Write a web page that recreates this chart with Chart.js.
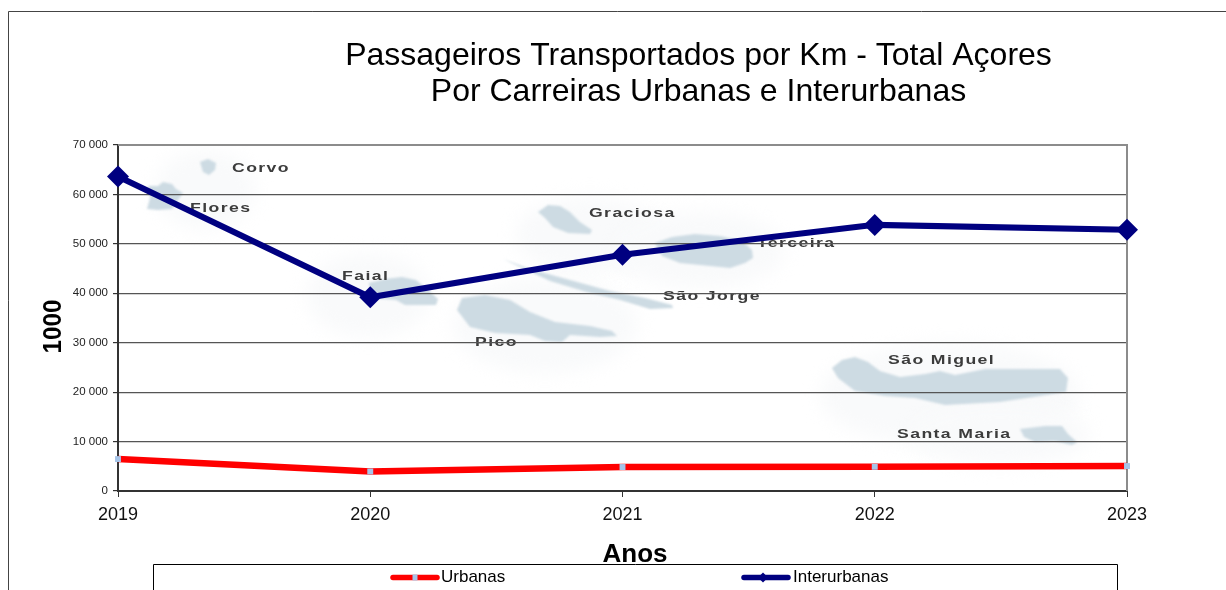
<!DOCTYPE html>
<html lang="pt">
<head>
<meta charset="utf-8">
<title>Passageiros Transportados por Km</title>
<script src="https://cdn.jsdelivr.net/npm/chart.js@4"></script>
<style>html,body{margin:0;padding:0;background:#fff;overflow:hidden}canvas{display:block}</style>
</head>
<body>
<canvas id="c" width="1226" height="590"></canvas>
<script>
const years = ['2019', '2020', '2021', '2022', '2023'];
const urbanas = [6460, 3940, 4850, 4900, 5050];
const interurbanas = [63640, 39190, 47780, 53840, 52830];
const yTicksStep = 10000;
const yMax = 70000;
const titleLines = ['Passageiros Transportados por Km - Total Açores', 'Por Carreiras Urbanas e Interurbanas'];
const xAxisTitle = 'Anos';
const yAxisTitle = '1000';

/* Decorative map behind the plot (not data) */
const islands = [
  [[200,162],[208,159],[216,163],[215,170],[209,175],[203,172]],
  [[148,186],[158,186],[163,182],[172,184],[176,189],[183,193],[178,200],[172,209],[158,210],[147,209],[150,198]],
  [[369,283],[385,279],[402,277],[416,280],[428,290],[438,299],[436,305],[405,305],[396,300],[372,298]],
  [[538,212],[548,205],[560,206],[570,212],[580,222],[592,230],[590,234],[568,233],[553,227],[545,218]],
  [[655,243],[672,237],[695,234],[720,236],[742,241],[752,250],[753,258],[745,263],[730,268],[710,266],[680,263],[662,256]],
  [[503,259],[530,269],[570,280],[610,291],[645,298],[672,305],[673,308],[650,309],[620,300],[590,293],[550,281]],
  [[457,310],[462,298],[485,295],[510,300],[530,312],[555,322],[590,326],[612,331],[617,336],[600,337],[570,335],[562,342],[545,341],[530,335],[495,333],[470,327]],
  [[832,368],[842,360],[855,357],[868,362],[880,371],[900,377],[925,374],[940,371],[955,375],[985,369],[1010,369],[1060,369],[1068,378],[1066,392],[1040,396],[1000,402],[945,405],[915,398],[885,396],[855,391],[838,378]],
  [[1020,429],[1045,426],[1062,426],[1068,434],[1077,442],[1072,445],[1055,441],[1035,442],[1024,437]]
];
const halos = [[205,190,50,40],[368,295,62,42],[590,235,75,38],[700,250,85,38],[545,325,92,48],[950,395,130,52],[1000,435,90,30]];
const placeNames = [
  ['Corvo',232,169],['Flores',190,209],['Faial',342,277],['Graciosa',589,214],['Terceira',757,244],
  ['São Jorge',663,297],['Pico',475,343],['São Miguel',888,361],['Santa Maria',897,435]
];

const pagePlugin = {
  id: 'page',
  afterLayout(chart) {
    chart.titleBlock.left += 270; /* the title sits to the right of the page centre */
  },
  beforeDraw(chart) {
    const ctx = chart.ctx;
    ctx.save();
    ctx.fillStyle = '#fff';
    ctx.fillRect(0, 0, chart.width, chart.height);
    ctx.strokeStyle = '#444';
    ctx.lineWidth = 1;
    ctx.beginPath();
    ctx.moveTo(8.5, 590); ctx.lineTo(8.5, 11.5); ctx.lineTo(1226, 11.5);
    ctx.stroke();
    const a = chart.chartArea;
    ctx.beginPath(); ctx.rect(a.left, a.top, a.right - a.left, a.bottom - a.top); ctx.clip();
    ctx.filter = 'blur(9px)';
    ctx.fillStyle = '#f9fafb';
    halos.forEach(h => { ctx.beginPath(); ctx.ellipse(h[0], h[1], h[2], h[3], 0, 0, Math.PI * 2); ctx.fill(); });
    ctx.filter = 'blur(0.8px)';
    ctx.fillStyle = '#cddbe3';
    islands.forEach(p => {
      ctx.beginPath();
      p.forEach((q, i) => i ? ctx.lineTo(q[0], q[1]) : ctx.moveTo(q[0], q[1]));
      ctx.closePath(); ctx.fill();
    });
    ctx.filter = 'blur(0.4px)';
    ctx.fillStyle = '#3c3c3c';
    ctx.font = 'bold 12.5px "Liberation Sans"';
    ctx.letterSpacing = '1px';
    ctx.textBaseline = 'middle';
    placeNames.forEach(n => {
      ctx.save();
      ctx.translate(n[1], n[2]);
      ctx.scale(1.41, 1);
      ctx.fillText(n[0], 0, 0);
      ctx.restore();
    });
    ctx.restore();
  },
  beforeDatasetsDraw(chart) {
    const ctx = chart.ctx, a = chart.chartArea;
    ctx.save();
    ctx.strokeStyle = '#8c8c8c';
    ctx.lineWidth = 2;
    ctx.beginPath();
    ctx.moveTo(a.left, a.top); ctx.lineTo(a.right, a.top); ctx.lineTo(a.right, a.bottom);
    ctx.stroke();
    ctx.restore();
  },
  afterDraw(chart) {
    const ctx = chart.ctx;
    ctx.save();
    ctx.fillStyle = '#000';
    ctx.font = 'bold 26px "Liberation Sans"';
    ctx.textAlign = 'center';
    ctx.textBaseline = 'alphabetic';
    ctx.fillText(xAxisTitle, 635, 562);

    ctx.save();
    ctx.translate(61, 326.5);
    ctx.rotate(-Math.PI / 2);
    ctx.scale(0.93, 1);
    ctx.fillText(yAxisTitle, 0, 0);
    ctx.restore();

    /* legend box, cut by the bottom of the page */
    ctx.strokeStyle = '#000';
    ctx.lineWidth = 1;
    ctx.beginPath();
    ctx.moveTo(153.5, 590); ctx.lineTo(153.5, 564.5); ctx.lineTo(1117.5, 564.5); ctx.lineTo(1117.5, 590);
    ctx.stroke();
    const starts = [390, 741];
    ctx.font = '17px "Liberation Sans"';
    ctx.textAlign = 'left';
    ctx.textBaseline = 'middle';
    chart.data.datasets.forEach((d, i) => {
      const x = starts[i], y = 577.5;
      ctx.strokeStyle = d.borderColor;
      ctx.lineWidth = 5.5;
      ctx.lineCap = 'round';
      ctx.beginPath(); ctx.moveTo(x + 3, y); ctx.lineTo(x + 47, y); ctx.stroke();
      ctx.fillStyle = d.pointBackgroundColor;
      ctx.beginPath();
      if (d.pointStyle === 'rect') { ctx.rect(x + 22.5, y - 3, 5, 6); }
      else { ctx.moveTo(x + 22, y - 5); ctx.lineTo(x + 27, y); ctx.lineTo(x + 22, y + 5); ctx.lineTo(x + 17, y); ctx.closePath(); }
      ctx.fill();
      ctx.fillStyle = '#000';
      ctx.fillText(d.label, x + (i ? 52 : 51), y);
    });
    ctx.restore();
  }
};

new Chart(document.getElementById('c'), {
  type: 'line',
  data: {
    labels: years,
    datasets: [
      { label: 'Urbanas', data: urbanas, borderColor: '#ff0000', borderWidth: 6.5, pointStyle: 'rect',
        pointRadius: 4.2, pointBackgroundColor: '#a6c4e8', pointBorderWidth: 0, tension: 0, clip: false },
      { label: 'Interurbanas', data: interurbanas, borderColor: '#000080', borderWidth: 6, pointStyle: 'rectRot',
        pointRadius: 11, pointBackgroundColor: '#000080', pointBorderWidth: 0, tension: 0, clip: false }
    ]
  },
  options: {
    responsive: false,
    animation: false,
    layout: { padding: { left: 0, right: 99, top: 38, bottom: 0 } },
    plugins: {
      legend: { display: false },
      tooltip: { enabled: false },
      title: {
        display: true, text: titleLines, color: '#000',
        font: { family: '"Liberation Sans"', size: 32, weight: 'normal', lineHeight: 1.125 },
        padding: { top: 0, bottom: 35 }
      }
    },
    scales: {
      x: {
        type: 'category',
        offset: false,
        afterFit(s) { s.height = 99; },
        border: { color: '#333', width: 2 },
        grid: {
          color: 'rgba(0,0,0,0)',
          lineWidth: 1,
          tickColor: '#333', tickLength: 6
        },
        ticks: { color: '#111', font: { family: '"Liberation Sans"', size: 18 }, padding: 7, autoSkip: false, maxRotation: 0 }
      },
      y: {
        min: 0, max: yMax,
        afterFit(s) { s.width = 118; },
        border: { color: '#333', width: 2 },
        grid: {
          color: '#555',
          lineWidth: 1.2,
          tickColor: '#333', tickLength: 5
        },
        ticks: { stepSize: yTicksStep, color: '#222', padding: 5, font: { family: '"Liberation Sans"', size: 11.5 },
          callback: v => String(v).replace(/\B(?=(\d{3})+$)/g, ' ') }
      }
    }
  },
  plugins: [pagePlugin]
});
</script>
</body>
</html>
